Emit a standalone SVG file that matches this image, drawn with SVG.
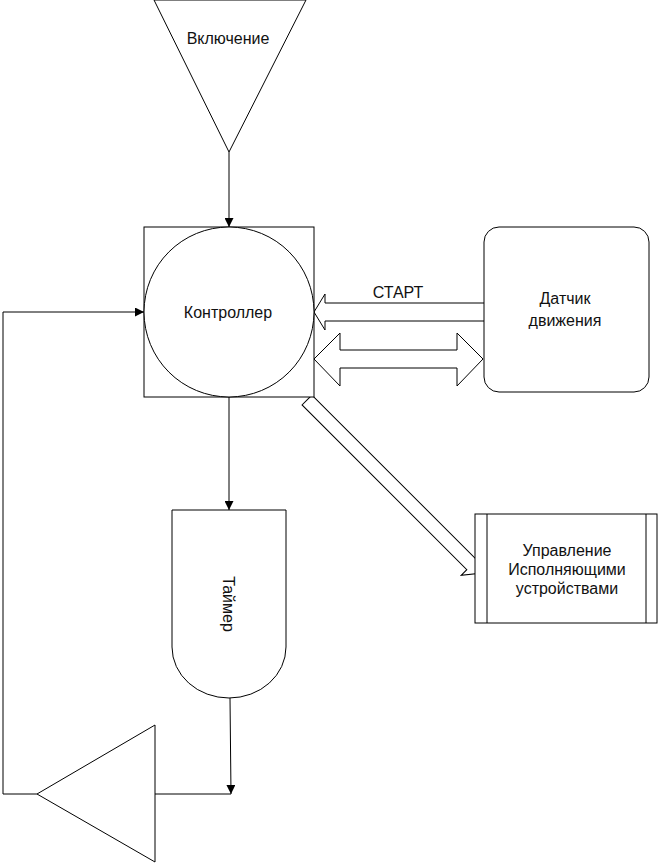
<svg xmlns="http://www.w3.org/2000/svg" width="658" height="863" viewBox="0 0 658 863">
<style>
.s{fill:#fff;stroke:#000;stroke-width:1}
.c{fill:none;stroke:#000;stroke-width:1}
.t{font-family:"Liberation Sans",Arial,sans-serif;font-size:16px;fill:#111;text-anchor:middle}
</style>
<defs>
<marker id="ah" viewBox="0 0 10 10" refX="10" refY="5" markerWidth="9" markerHeight="9" markerUnits="userSpaceOnUse" orient="auto">
<path d="M0,0 L10,5 L0,10 Z" fill="#000"/>
</marker>
</defs>
<rect width="658" height="863" fill="#fff"/>
<g id="connectors">
<path class="c" d="M229,152 L229,227" marker-end="url(#ah)"/>
<path class="c" d="M229,397 L229,510" marker-end="url(#ah)"/>
<path class="c" d="M230,698 L231,794" marker-end="url(#ah)"/>
<path class="c" d="M155,794 L231,794"/>
<path class="c" d="M37,794 L3,794 L3,312 L144,312" marker-end="url(#ah)"/>
<g id="start-arrow">
<path class="s" d="M484,303 L325,303 L325,294 L314,312 L325,330 L325,321 L484,321"/>
<text class="t" x="398" y="298">СТАРТ</text>
</g>
<path id="bus-arrow" class="s" d="M314,359 L340,333 L340,350 L457,350 L457,333 L483,359 L457,386 L457,368 L340,368 L340,386 Z"/>
<path id="diag-arrow" class="s" transform="translate(307,400) rotate(45)" d="M0,-7 L233,-7 L233,-15 L245,0 L233,15 L233,7 L0,7 Z"/>
</g>
<g id="vkl">
<path class="s" d="M154,0 L306,0 L229,152 Z"/>
<text class="t" x="228" y="44">Включение</text>
</g>
<g id="controller">
<rect class="s" x="144" y="227" width="170" height="170"/>
<circle class="s" cx="229" cy="312" r="85"/>
<text class="t" x="228" y="318">Контроллер</text>
</g>
<g id="datchik">
<rect class="s" x="484" y="227" width="165" height="165" rx="15" ry="15"/>
<text class="t" x="565" y="304">Датчик</text>
<text class="t" x="565" y="326">движения</text>
</g>
<g id="upravlenie">
<rect class="s" x="475" y="514" width="182" height="109"/>
<path class="c" d="M487,514 L487,623 M646,514 L646,623"/>
<text class="t" x="567" y="556">Управление</text>
<text class="t" x="567" y="575">Исполняющими</text>
<text class="t" x="567" y="594">устройствами</text>
</g>
<g id="timer">
<path class="s" d="M172,510 L286,510 L286,647 A57,51 0 0 1 172,647 Z"/>
<text class="t" transform="translate(223,604) rotate(90)" x="0" y="0">Таймер</text>
</g>
<g id="amp">
<path class="s" d="M37,794 L155,725 L155,862 Z"/>
</g>
</svg>
